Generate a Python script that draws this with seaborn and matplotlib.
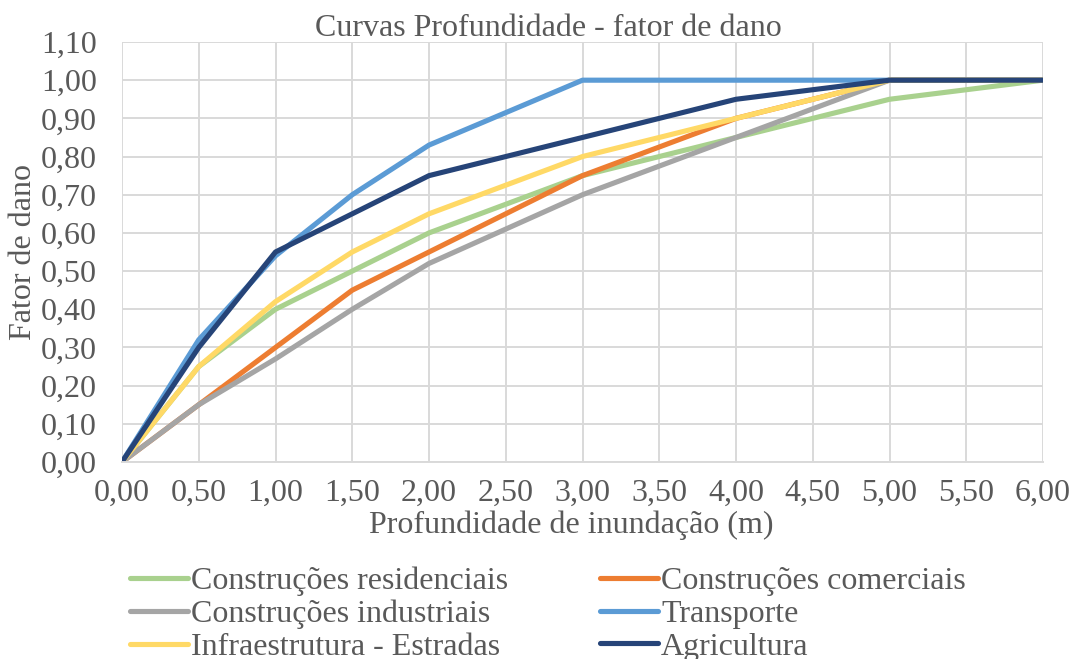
import matplotlib
matplotlib.use("Agg")
import matplotlib.pyplot as plt
import seaborn as sns
import pandas as pd
from matplotlib.ticker import FuncFormatter, MultipleLocator

depth = [0.0, 0.5, 1.0, 1.5, 2.0, 3.0, 4.0, 5.0, 6.0]
residenciais = [0.00, 0.25, 0.40, 0.50, 0.60, 0.75, 0.85, 0.95, 1.00]
comerciais = [0.00, 0.15, 0.30, 0.45, 0.55, 0.75, 0.90, 1.00, 1.00]
industriais = [0.00, 0.15, 0.27, 0.40, 0.52, 0.70, 0.85, 1.00, 1.00]
transporte = [0.00, 0.32, 0.54, 0.70, 0.83, 1.00, 1.00, 1.00, 1.00]
infraestrutura = [0.00, 0.25, 0.42, 0.55, 0.65, 0.80, 0.90, 1.00, 1.00]
agricultura = [0.00, 0.30, 0.55, 0.65, 0.75, 0.85, 0.95, 1.00, 1.00]

series_names = ["Construções residenciais", "Construções comerciais",
                "Construções industriais", "Transporte",
                "Infraestrutura - Estradas", "Agricultura"]
series_values = [residenciais, comerciais, industriais, transporte,
                 infraestrutura, agricultura]
colors = ["#A9D18E", "#ED7D31", "#A5A5A5", "#5B9BD5", "#FFD966", "#264478"]

rows = []
for name, vals in zip(series_names, series_values):
    for d, v in zip(depth, vals):
        rows.append({"depth": d, "dano": v, "serie": name})
df = pd.DataFrame(rows)

sns.set_theme(style="white")
plt.rcParams["font.family"] = ["Liberation Serif", "DejaVu Serif"]
text_color = "#595959"
fs = 23

fig = plt.figure(figsize=(10.72, 6.59), dpi=100)
ax = fig.add_axes([122/1072, 1-462/659, (1043-122)/1072, (462-42)/659])

sns.lineplot(data=df, x="depth", y="dano", hue="serie", hue_order=series_names,
             palette=colors, linewidth=3.7, ax=ax, legend=True, sort=False)

ax.set_xlim(0, 6)
ax.set_ylim(0, 1.10)
ax.xaxis.set_major_locator(MultipleLocator(0.5))
ax.yaxis.set_major_locator(MultipleLocator(0.1))
fmt = FuncFormatter(lambda v, p: f"{v:.2f}".replace(".", ","))
ax.xaxis.set_major_formatter(fmt)
ax.yaxis.set_major_formatter(fmt)
ax.grid(True, color="#D9D9D9", linewidth=1.4)
ax.set_axisbelow(True)
for s in ["top", "right", "left"]:
    ax.spines[s].set_visible(False)
ax.spines["bottom"].set_color("#D9D9D9")
ax.spines["bottom"].set_linewidth(1.4)
ax.tick_params(axis="both", length=0, labelsize=fs, colors=text_color)
ax.tick_params(axis="y", pad=18)
ax.tick_params(axis="x", pad=12)
ax.set_xlabel("Profundidade de inundação (m)", fontsize=fs, color=text_color)
ax.xaxis.set_label_coords((571-122)/921, (462-511)/420)
ax.set_ylabel("Fator de dano", fontsize=fs, color=text_color, labelpad=2)

fig.text(548/1072, 1-28/659, "Curvas Profundidade - fator de dano", ha="center",
         va="center", fontsize=fs, color=text_color)

handles, labels = ax.get_legend_handles_labels()
order = [0, 2, 4, 1, 3, 5]
ax.legend([handles[i] for i in order], [labels[i] for i in order], ncol=2,
          frameon=False, fontsize=fs,
          loc="upper left", bbox_to_anchor=(130/1072, 1-567/659),
          bbox_transform=fig.transFigure, handlelength=1.8, handletextpad=0.1,
          columnspacing=2.9, labelspacing=0.1, borderpad=0, borderaxespad=0,
          labelcolor=text_color)

fig.savefig("out.png", dpi=100)
